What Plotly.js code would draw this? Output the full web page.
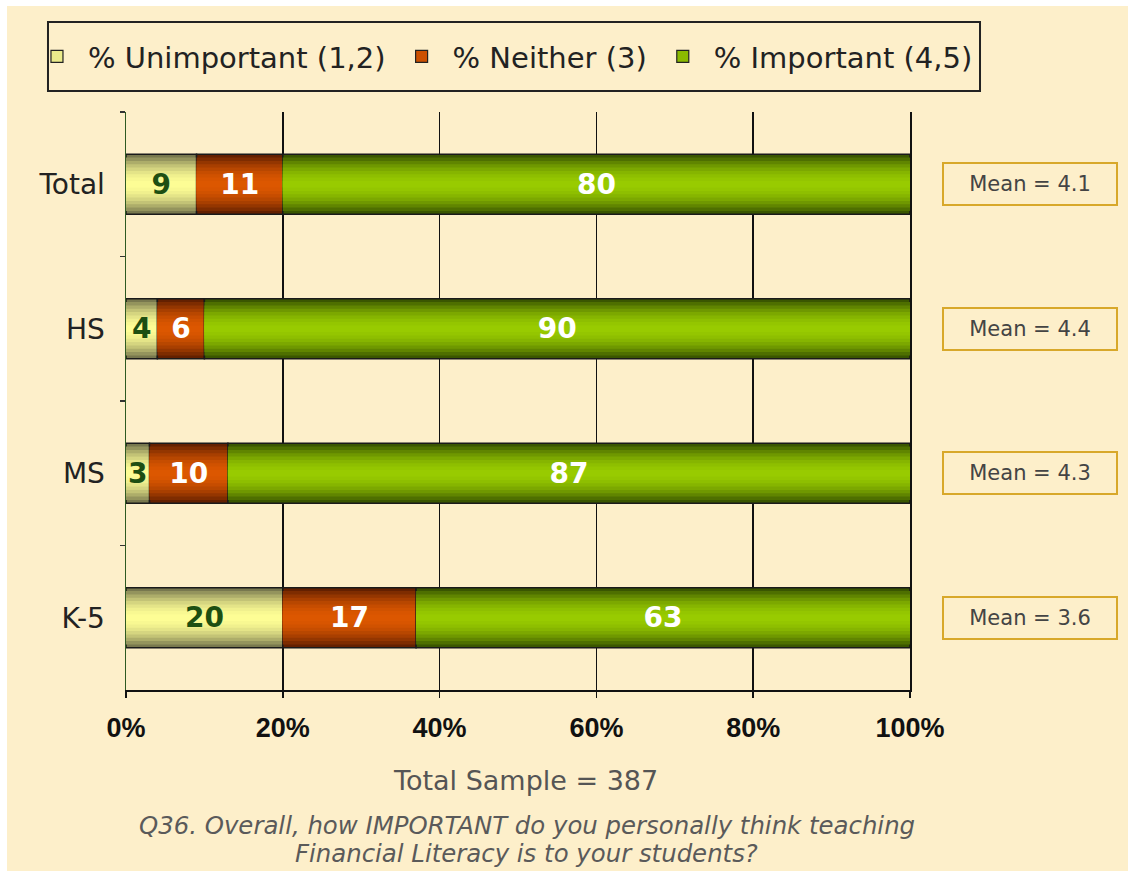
<!DOCTYPE html>
<html>
<head>
<meta charset="utf-8">
<script src="https://cdn.plot.ly/plotly-3.0.1.min.js"></script>
<style>
  html, body { margin: 0; padding: 0; background: #ffffff; }
  #plot { position: absolute; left: 7px; top: 6px; width: 1121px; height: 865px; }
</style>
</head>
<body>
<div id="plot"></div>
<script>
// data
const groups = ['Total', 'HS', 'MS', 'K-5'];
const unimportant = [9, 4, 3, 20];
const neither = [11, 6, 10, 17];
const important = [80, 90, 87, 63];
const means = ['4.1', '4.4', '4.3', '3.6'];
const seriesNames = ['% Unimportant (1,2)', '% Neither (3)', '% Important (4,5)'];
const sampleText = 'Total Sample = 387';
const questionLines = ['Q36. Overall, how IMPORTANT do you personally think teaching', 'Financial Literacy is to your students?'];

const cream = '#fdefca';
const barWidth = 0.415;
const layers = 9;

// edge (dark) and centre (light) colours of each series
const palette = [
    { edge: [120, 120, 78], mid: [255, 255, 150], text: '#1d4f12' },
    { edge: [100, 32, 0], mid: [222, 88, 0], text: '#ffffff' },
    { edge: [58, 86, 0], mid: [153, 204, 0], text: '#ffffff' }
];

function mix(a, b, t) {
    const c = a.map((v, i) => Math.round(v + (b[i] - v) * t));
    return 'rgb(' + c.join(',') + ')';
}

const series = [unimportant, neither, important];
const traces = [];

// legend-only entries (first one also carries the right-hand frame axis)
series.forEach((vals, s) => {
    traces.push({
        type: 'bar', orientation: 'h',
        x: [null], y: [null],
        yaxis: s === 0 ? 'y2' : 'y',
        name: seriesNames[s],
        marker: { color: mix(palette[s].edge, palette[s].mid, 0.85), line: { color: '#222', width: 1.2 } },
        showlegend: true, hoverinfo: 'skip'
    });
});

// stacked bars, drawn as nested layers to give the shaded look
let bases = groups.map(() => 0);
series.forEach((vals, s) => {
    const base = bases.slice();
    for (let k = 0; k < layers; k++) {
        const r = 1 - k / layers;
        traces.push({
            type: 'bar', orientation: 'h',
            x: vals, y: groups, base: base,
            width: barWidth * r,
            marker: {
                color: mix(palette[s].edge, palette[s].mid, 1 - r * r),
                line: { color: '#1a1a1a', width: k === 0 ? 1.5 : 0 }
            },
            showlegend: false, hoverinfo: 'skip'
        });
    }
    bases = bases.map((b, i) => b + vals[i]);
});

// value labels on top
bases = groups.map(() => 0);
series.forEach((vals, s) => {
    const base = bases.slice();
    traces.push({
        type: 'bar', orientation: 'h',
        x: vals, y: groups, base: base,
        width: barWidth,
        text: vals.map(String),
        textposition: 'inside',
        insidetextanchor: 'middle',
        constraintext: 'none',
        textangle: 0,
        insidetextfont: { family: 'DejaVu Sans', size: 28, color: palette[s].text, weight: 'bold' },
        marker: { color: 'rgba(0,0,0,0)', line: { width: 0 } },
        showlegend: false, hoverinfo: 'skip'
    });
    bases = bases.map((b, i) => b + vals[i]);
});

const annotations = groups.map((g, i) => ({
    xref: 'paper', yref: 'y',
    x: 1.153, y: g, xanchor: 'center', yanchor: 'middle',
    text: 'Mean = ' + means[i],
    showarrow: false,
    width: 172, height: 40,
    bgcolor: cream,
    bordercolor: '#d8a82a', borderwidth: 2, borderpad: 0,
    font: { family: 'DejaVu Sans', size: 21, color: '#444' }
}));
annotations.push({
    xref: 'paper', yref: 'paper', x: 0.509, y: -0.157,
    xanchor: 'center', yanchor: 'middle',
    text: sampleText, showarrow: false,
    font: { family: 'DejaVu Sans', size: 27, color: '#555' }
});
questionLines.forEach((line, i) => {
    annotations.push({
        xref: 'paper', yref: 'paper', x: 0.511, y: -0.235 - i * 0.0484,
        xanchor: 'center', yanchor: 'middle',
        text: '<i>' + line + '</i>', showarrow: false,
        font: { family: 'DejaVu Sans', size: 24.4, color: '#5a5a5a' }
    });
});

const layout = {
    width: 1121, height: 865,
    paper_bgcolor: cream, plot_bgcolor: cream,
    margin: { l: 119, r: 218, t: 106, b: 181 },
    barmode: 'overlay',
    showlegend: true,
    legend: {
        orientation: 'h',
        x: 1.0867, xanchor: 'right',
        y: 1.096, yanchor: 'middle',
        itemwidth: 52,
        bgcolor: 'rgba(0,0,0,0)', borderwidth: 0,
        font: { family: 'DejaVu Sans', size: 29, color: '#222' },
        traceorder: 'normal'
    },
    shapes: [{
        type: 'rect', xref: 'paper', yref: 'paper',
        x0: -0.0995, x1: 1.0893, y0: 1.0363, y1: 1.1557,
        line: { color: '#222', width: 2 }, fillcolor: 'rgba(0,0,0,0)', layer: 'below'
    }],
    xaxis: {
        range: [0, 100], dtick: 20, ticksuffix: '%',
        showgrid: true, gridcolor: '#111', gridwidth: 1.5,
        zeroline: false,
        showline: true, linecolor: '#111', linewidth: 1.5,
        ticks: 'outside', ticklen: 6, tickcolor: '#111', tickwidth: 1.5,
        ticklabelstandoff: 7,
        tickfont: { family: 'Liberation Sans', size: 27, color: '#111', weight: 'bold' },
        fixedrange: true
    },
    yaxis: {
        type: 'category',
        range: [3.5, -0.5],
        showgrid: false, zeroline: false,
        showline: true, linecolor: '#2f5a22', linewidth: 1.5,
        ticks: 'outside', tickson: 'boundaries', ticklen: 5, tickcolor: '#333', tickwidth: 1.2,
        ticklabelstandoff: 14,
        tickfont: { family: 'DejaVu Sans', size: 28, color: '#222' },
        fixedrange: true
    },
    yaxis2: {
        overlaying: 'y', side: 'right', range: [0, 1],
        showline: true, linecolor: '#111', linewidth: 1.5,
        showgrid: false, zeroline: false, showticklabels: false, ticks: '',
        fixedrange: true
    },
    annotations: annotations
};

Plotly.newPlot('plot', traces, layout, { displayModeBar: false, staticPlot: true });
</script>
</body>
</html>
